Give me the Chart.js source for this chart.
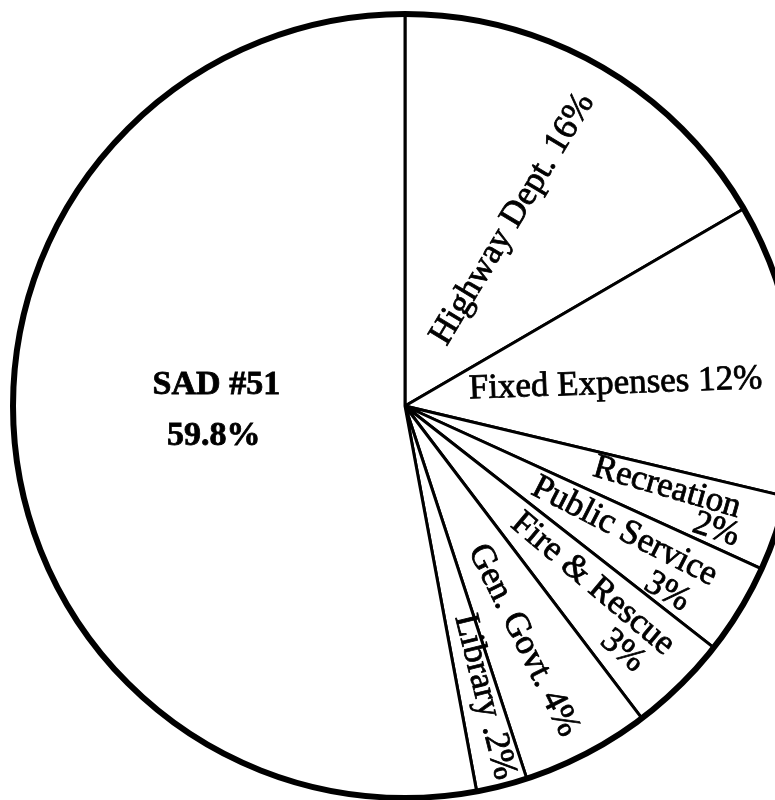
<!DOCTYPE html>
<html>
<head>
<meta charset="utf-8">
<script src="https://cdn.jsdelivr.net/npm/chart.js@4"></script>
<style>
  html, body { margin: 0; padding: 0; background: #fff; overflow: hidden; }
  #wrap { position: absolute; left: 0; top: 0; width: 810px; height: 812px; }
</style>
</head>
<body>
<div id="wrap"><canvas id="budgetPie"></canvas></div>
<script>
// slice names and the percentages printed on them
const categories = ['Highway Dept.', 'Fixed Expenses', 'Recreation', 'Public Service', 'Fire & Rescue', 'Gen. Govt.', 'Library', 'SAD #51'];
const percentText = ['16%', '12%', '2%', '3%', '3%', '4%', '.2%', '59.8%'];
// share of the circle each slice takes in the drawing
const sliceShare = [16.6, 12.1, 3.1, 3.75, 4.1, 5.3, 2.1, 52.9];

// where each label line sits: offset from slice mid angle (deg), fraction of radius, text rotation (deg)
const labelLayout = [
  [{ part: 'both', da: 0, r: 0.55, rot: -59 }],
  [{ part: 'both', da: 2.5, r: 0.54, rot: -2 }],
  [{ part: 'name', da: -1.65, r: 0.70, rot: 16 }, { part: 'pct', da: 2.75, r: 0.854, rot: 18 }],
  [{ part: 'name', da: -1.55, r: 0.645, rot: 27 }, { part: 'pct', da: 4.05, r: 0.82, rot: 30 }],
  [{ part: 'name', da: -1.95, r: 0.66, rot: 40 }, { part: 'pct', da: 2.95, r: 0.836, rot: 40 }],
  [{ part: 'both', da: 0.85, r: 0.67, rot: 63.5 }],
  [{ part: 'both', da: -1.0, r: 0.77, rot: 76 }],
  [{ part: 'name', da: 11.45, r: 0.484, rot: 0, bold: true }, { part: 'pct', da: -3.75, r: 0.494, rot: 0, bold: true }]
];

const sliceLabels = {
  id: 'sliceLabels',
  afterDatasetsDraw(chart) {
    const ctx = chart.ctx;
    const meta = chart.getDatasetMeta(0);
    const first = meta.data[0];

    // heavier outer rim, like the printed original
    ctx.save();
    ctx.strokeStyle = '#000';
    ctx.lineWidth = 6;
    ctx.beginPath();
    ctx.arc(first.x, first.y, first.outerRadius, 0, Math.PI * 2);
    ctx.stroke();
    ctx.restore();

    meta.data.forEach((arc, i) => {
      const mid = (arc.startAngle + arc.endAngle) / 2;
      labelLayout[i].forEach((l) => {
        let text = categories[i];
        if (l.part === 'pct') text = percentText[i];
        if (l.part === 'both') text = categories[i] + ' ' + percentText[i];
        const ang = mid + l.da * Math.PI / 180;
        const x = arc.x + Math.cos(ang) * arc.outerRadius * l.r;
        const y = arc.y + Math.sin(ang) * arc.outerRadius * l.r;
        ctx.save();
        ctx.translate(x, y);
        ctx.rotate(l.rot * Math.PI / 180);
        ctx.fillStyle = '#000';
        ctx.strokeStyle = '#000';
        ctx.lineWidth = 0.8;
        ctx.font = l.bold ? 'bold 34px "Liberation Serif"' : '35px "Liberation Serif"';
        ctx.textAlign = 'center';
        ctx.textBaseline = 'middle';
        ctx.fillText(text, 0, 0);
        ctx.strokeText(text, 0, 0); // scanned print looks inkier
        ctx.restore();
      });
    });
  }
};

new Chart(document.getElementById('budgetPie'), {
  type: 'pie',
  data: {
    labels: categories,
    datasets: [{
      data: sliceShare,
      backgroundColor: '#fff',
      borderColor: '#000',
      borderWidth: 3
    }]
  },
  options: {
    responsive: true,
    maintainAspectRatio: false,
    animation: false,
    radius: 392,
    layout: { padding: 0 },
    plugins: {
      legend: { display: false },
      tooltip: { enabled: false }
    }
  },
  plugins: [sliceLabels]
});
</script>
</body>
</html>
